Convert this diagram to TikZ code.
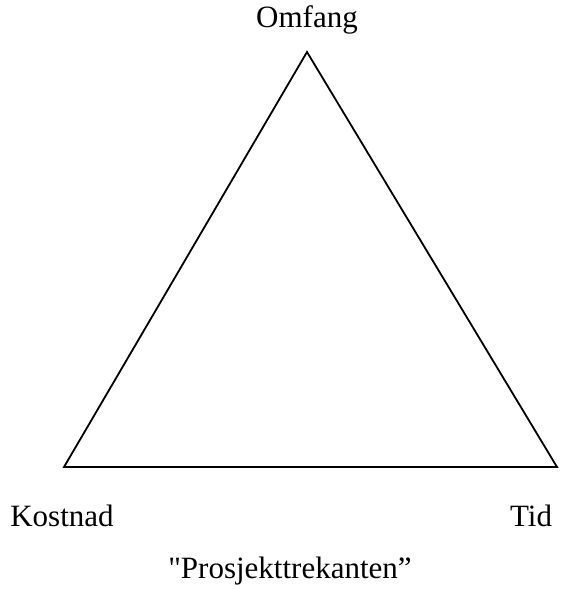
\documentclass[tikz,border=0pt]{standalone}
\usepackage{fontspec}
\setmainfont{Liberation Serif}
\newfontfamily\plainquote[Ligatures=TeXOff]{Liberation Serif}
\begin{document}
\begin{tikzpicture}[x=1pt,y=-1pt,
  lbl/.style={font=\fontsize{31}{36}\selectfont, inner sep=0pt},
  edge/.style={line width=1.8pt, line join=miter}]
\useasboundingbox (0,0) rectangle (563,589);
\coordinate (top) at (307,52);
\coordinate (left) at (64,467);
\coordinate (right) at (557,467);
\draw[edge] (top) -- (left) -- (right) -- cycle;
\node[lbl] (omfang) at (307,20) {Omfang};
\node[lbl] (kostnad) at (62,516) {Kostnad};
\node[lbl] (tid) at (531,516) {Tid};
\node[lbl] (caption) at (290,571) {{\plainquote"}Prosjekttrekanten”};
\end{tikzpicture}
\end{document}
